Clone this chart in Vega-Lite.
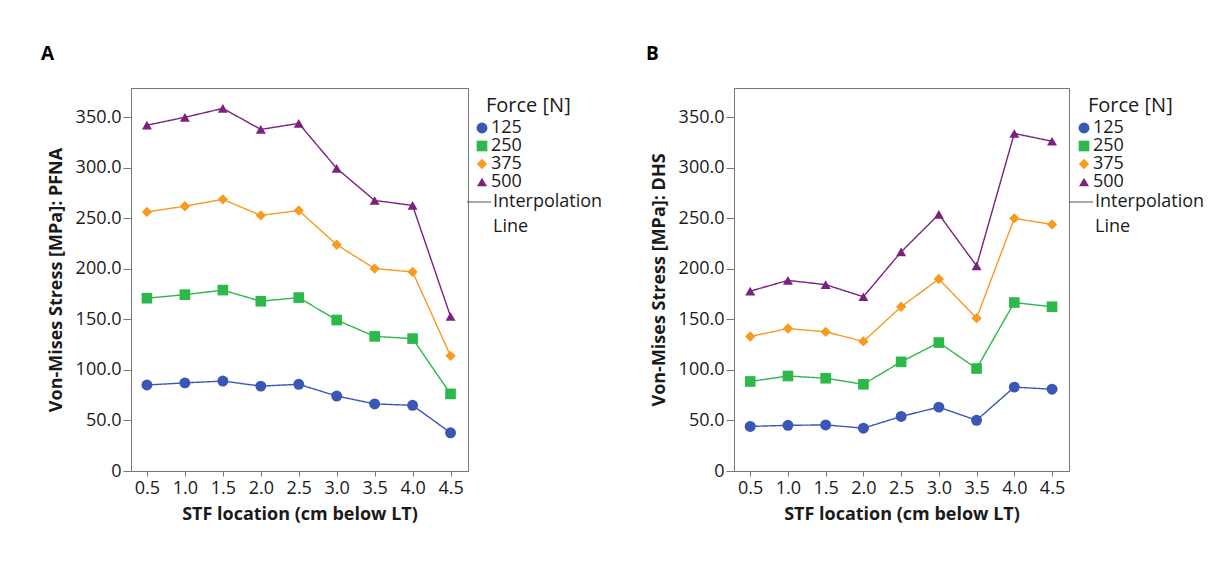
{
  "$schema": "https://vega.github.io/schema/vega-lite/v6.json",
  "background": "white",
  "padding": {"left": 40, "top": 44, "right": 5, "bottom": 5},
  "datasets": {
    "pfna": [
      {"loc": 0.5, "force": "125", "stress": 85.1}, {"loc": 1.0, "force": "125", "stress": 87.2}, {"loc": 1.5, "force": "125", "stress": 89.0}, {"loc": 2.0, "force": "125", "stress": 84.0}, {"loc": 2.5, "force": "125", "stress": 85.8}, {"loc": 3.0, "force": "125", "stress": 74.2}, {"loc": 3.5, "force": "125", "stress": 66.4}, {"loc": 4.0, "force": "125", "stress": 65.0}, {"loc": 4.5, "force": "125", "stress": 37.8},
      {"loc": 0.5, "force": "250", "stress": 171.0}, {"loc": 1.0, "force": "250", "stress": 174.5}, {"loc": 1.5, "force": "250", "stress": 179.0}, {"loc": 2.0, "force": "250", "stress": 168.0}, {"loc": 2.5, "force": "250", "stress": 171.6}, {"loc": 3.0, "force": "250", "stress": 149.4}, {"loc": 3.5, "force": "250", "stress": 133.2}, {"loc": 4.0, "force": "250", "stress": 131.0}, {"loc": 4.5, "force": "250", "stress": 76.3},
      {"loc": 0.5, "force": "375", "stress": 256.4}, {"loc": 1.0, "force": "375", "stress": 262.0}, {"loc": 1.5, "force": "375", "stress": 268.8}, {"loc": 2.0, "force": "375", "stress": 252.9}, {"loc": 2.5, "force": "375", "stress": 257.8}, {"loc": 3.0, "force": "375", "stress": 223.9}, {"loc": 3.5, "force": "375", "stress": 200.3}, {"loc": 4.0, "force": "375", "stress": 197.0}, {"loc": 4.5, "force": "375", "stress": 114.0},
      {"loc": 0.5, "force": "500", "stress": 342.2}, {"loc": 1.0, "force": "500", "stress": 350.0}, {"loc": 1.5, "force": "500", "stress": 358.8}, {"loc": 2.0, "force": "500", "stress": 338.0}, {"loc": 2.5, "force": "500", "stress": 344.0}, {"loc": 3.0, "force": "500", "stress": 299.5}, {"loc": 3.5, "force": "500", "stress": 267.7}, {"loc": 4.0, "force": "500", "stress": 262.8}, {"loc": 4.5, "force": "500", "stress": 152.9}
    ],
    "dhs": [
      {"loc": 0.5, "force": "125", "stress": 44.1}, {"loc": 1.0, "force": "125", "stress": 45.2}, {"loc": 1.5, "force": "125", "stress": 45.6}, {"loc": 2.0, "force": "125", "stress": 42.4}, {"loc": 2.5, "force": "125", "stress": 54.0}, {"loc": 3.0, "force": "125", "stress": 63.2}, {"loc": 3.5, "force": "125", "stress": 50.2}, {"loc": 4.0, "force": "125", "stress": 83.0}, {"loc": 4.5, "force": "125", "stress": 80.9},
      {"loc": 0.5, "force": "250", "stress": 88.6}, {"loc": 1.0, "force": "250", "stress": 94.0}, {"loc": 1.5, "force": "250", "stress": 91.8}, {"loc": 2.0, "force": "250", "stress": 85.8}, {"loc": 2.5, "force": "250", "stress": 108.0}, {"loc": 3.0, "force": "250", "stress": 127.1}, {"loc": 3.5, "force": "250", "stress": 101.4}, {"loc": 4.0, "force": "250", "stress": 166.7}, {"loc": 4.5, "force": "250", "stress": 162.5},
      {"loc": 0.5, "force": "375", "stress": 133.1}, {"loc": 1.0, "force": "375", "stress": 141.0}, {"loc": 1.5, "force": "375", "stress": 137.7}, {"loc": 2.0, "force": "375", "stress": 128.2}, {"loc": 2.5, "force": "375", "stress": 162.5}, {"loc": 3.0, "force": "375", "stress": 190.0}, {"loc": 3.5, "force": "375", "stress": 151.2}, {"loc": 4.0, "force": "375", "stress": 250.0}, {"loc": 4.5, "force": "375", "stress": 244.0},
      {"loc": 0.5, "force": "500", "stress": 178.0}, {"loc": 1.0, "force": "500", "stress": 188.6}, {"loc": 1.5, "force": "500", "stress": 184.4}, {"loc": 2.0, "force": "500", "stress": 172.4}, {"loc": 2.5, "force": "500", "stress": 216.8}, {"loc": 3.0, "force": "500", "stress": 254.0}, {"loc": 3.5, "force": "500", "stress": 203.0}, {"loc": 4.0, "force": "500", "stress": 334.0}, {"loc": 4.5, "force": "500", "stress": 326.3}
    ]
  },
  "spacing": 41,
  "resolve": {
    "scale": {"fill": "independent", "shape": "independent", "size": "independent", "stroke": "independent", "strokeDash": "independent"},
    "legend": {"fill": "independent", "shape": "independent", "size": "independent", "stroke": "independent", "strokeDash": "independent"}
  },
  "hconcat": [
    {
      "width": 337,
      "height": 383,
      "data": {"name": "pfna"},
      "title": {"text": "A", "anchor": "start", "frame": "group", "dx": -90, "offset": 9, "baseline": "alphabetic", "fontSize": 19, "fontWeight": "bold", "font": "Open Sans", "color": "#000"},
      "encoding": {
        "x": {"field": "loc", "type": "quantitative", "scale": {"domain": [0.29, 4.73], "nice": false, "zero": false}, "axis": {"values": [0.5, 1.0, 1.5, 2.0, 2.5, 3.0, 3.5, 4.0, 4.5], "format": ".1f", "title": "STF location (cm below LT)"}},
        "y": {"field": "stress", "type": "quantitative", "scale": {"domain": [0, 379], "nice": false}, "axis": {"values": [0, 50, 100, 150, 200, 250, 300, 350], "labelExpr": "datum.value == 0 ? '0' : format(datum.value, '.1f')", "title": "Von-Mises Stress [MPa]: PFNA"}}
      },
      "layer": [
        {
          "mark": {"type": "line", "strokeWidth": 1.4},
          "encoding": {
            "stroke": {"field": "force", "type": "nominal", "scale": {"range": ["#3a57b5", "#2db84b", "#f79a1e", "#7b2180"]}, "legend": null},
            "strokeDash": {"datum": "Interpolation", "scale": {"domain": ["Interpolation", "Line"], "range": [[1, 0], [0, 1]]}, "legend": {"title": null, "orient": "none", "legendX": 335, "legendY": 101, "symbolType": "stroke", "symbolSize": 576, "symbolStrokeColor": "#555", "symbolStrokeWidth": 1.2, "labelOffset": 1, "rowPadding": 3, "padding": 0}}
          }
        },
        {
          "mark": {"type": "point", "filled": true, "opacity": 1, "strokeWidth": 0},
          "encoding": {
            "fill": {"field": "force", "type": "nominal", "scale": {"domain": ["125", "250", "375", "500"], "range": ["#3a57b5", "#2db84b", "#f79a1e", "#7b2180"]}, "legend": {"title": "Force [N]", "orient": "none", "legendX": 355, "legendY": 8, "symbolOffset": -13, "labelOffset": 0, "rowPadding": 0, "titlePadding": 3, "padding": 0}},
            "shape": {"field": "force", "type": "nominal", "scale": {"domain": ["125", "250", "375", "500"], "range": ["circle", "square", "diamond", "triangle-up"]}, "legend": {"title": "Force [N]", "orient": "none", "legendX": 355, "legendY": 8, "symbolOffset": -13, "labelOffset": 0, "rowPadding": 0, "titlePadding": 3, "padding": 0}},
            "size": {"field": "force", "type": "nominal", "scale": {"domain": ["125", "250", "375", "500"], "range": [120, 100, 200, 130]}, "legend": {"title": "Force [N]", "orient": "none", "legendX": 355, "legendY": 8, "symbolOffset": -13, "labelOffset": 0, "rowPadding": 0, "titlePadding": 3, "padding": 0}}
          }
        }
      ]
    },
    {
      "width": 335,
      "height": 383,
      "data": {"name": "dhs"},
      "title": {"text": "B", "anchor": "start", "frame": "group", "dx": -88, "offset": 9, "baseline": "alphabetic", "fontSize": 19, "fontWeight": "bold", "font": "Open Sans", "color": "#000"},
      "encoding": {
        "x": {"field": "loc", "type": "quantitative", "scale": {"domain": [0.285, 4.725], "nice": false, "zero": false}, "axis": {"values": [0.5, 1.0, 1.5, 2.0, 2.5, 3.0, 3.5, 4.0, 4.5], "format": ".1f", "title": "STF location (cm below LT)"}},
        "y": {"field": "stress", "type": "quantitative", "scale": {"domain": [0, 379], "nice": false}, "axis": {"values": [0, 50, 100, 150, 200, 250, 300, 350], "labelExpr": "datum.value == 0 ? '0' : format(datum.value, '.1f')", "title": "Von-Mises Stress [MPa]: DHS"}}
      },
      "layer": [
        {
          "mark": {"type": "line", "strokeWidth": 1.4},
          "encoding": {
            "stroke": {"field": "force", "type": "nominal", "scale": {"range": ["#3a57b5", "#2db84b", "#f79a1e", "#7b2180"]}, "legend": null},
            "strokeDash": {"datum": "Interpolation", "scale": {"domain": ["Interpolation", "Line"], "range": [[1, 0], [0, 1]]}, "legend": {"title": null, "orient": "none", "legendX": 334, "legendY": 101, "symbolType": "stroke", "symbolSize": 576, "symbolStrokeColor": "#555", "symbolStrokeWidth": 1.2, "labelOffset": 1, "rowPadding": 3, "padding": 0}}
          }
        },
        {
          "mark": {"type": "point", "filled": true, "opacity": 1, "strokeWidth": 0},
          "encoding": {
            "fill": {"field": "force", "type": "nominal", "scale": {"domain": ["125", "250", "375", "500"], "range": ["#3a57b5", "#2db84b", "#f79a1e", "#7b2180"]}, "legend": {"title": "Force [N]", "orient": "none", "legendX": 354, "legendY": 8, "symbolOffset": -13, "labelOffset": 0, "rowPadding": 0, "titlePadding": 3, "padding": 0}},
            "shape": {"field": "force", "type": "nominal", "scale": {"domain": ["125", "250", "375", "500"], "range": ["circle", "square", "diamond", "triangle-up"]}, "legend": {"title": "Force [N]", "orient": "none", "legendX": 354, "legendY": 8, "symbolOffset": -13, "labelOffset": 0, "rowPadding": 0, "titlePadding": 3, "padding": 0}},
            "size": {"field": "force", "type": "nominal", "scale": {"domain": ["125", "250", "375", "500"], "range": [120, 100, 200, 130]}, "legend": {"title": "Force [N]", "orient": "none", "legendX": 354, "legendY": 8, "symbolOffset": -13, "labelOffset": 0, "rowPadding": 0, "titlePadding": 3, "padding": 0}}
          }
        }
      ]
    }
  ],
  "config": {
    "view": {"stroke": "#777", "strokeWidth": 1},
    "axis": {"grid": false, "domainColor": "#777", "tickColor": "#777", "labelFont": "Open Sans", "labelFontSize": 18, "labelColor": "#1a1a1a", "titleFont": "Open Sans", "titleFontSize": 18, "titleFontWeight": "bold", "titleColor": "#1a1a1a"},
    "axisX": {"tickSize": 5, "labelPadding": 3, "titlePadding": 8, "labelAngle": 0},
    "axisY": {"tickSize": 8, "labelPadding": 2, "titlePadding": 10},
    "legend": {"labelFont": "Open Sans", "labelFontSize": 18, "titleFont": "Open Sans", "titleFontSize": 20, "titleFontWeight": "normal", "labelColor": "#1a1a1a", "titleColor": "#1a1a1a"}
  }
}
